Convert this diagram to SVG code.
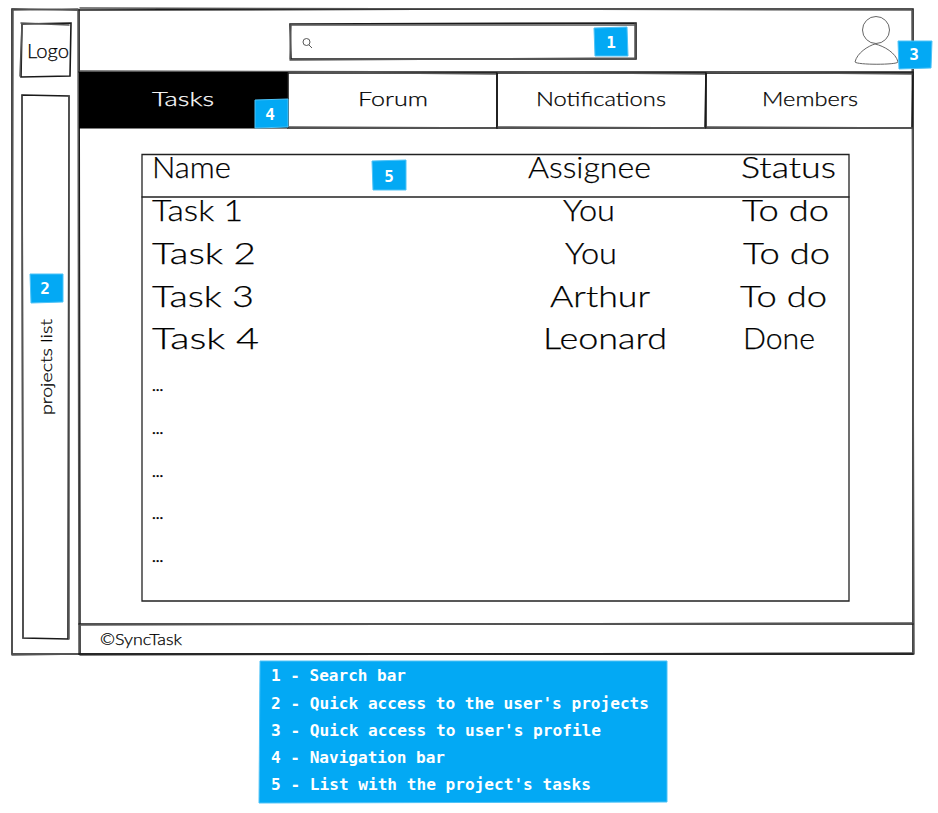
<svg xmlns="http://www.w3.org/2000/svg" width="938" height="813" viewBox="0 0 938 813">
<style>
.s{fill:none;stroke:#1a1a1a;stroke-width:1.6;stroke-linecap:round}
.g{fill:none;stroke:#555;stroke-width:1.5;stroke-linecap:round}
.ts{fill:none;stroke:#222;stroke-width:1.300;stroke-linecap:round}
.b{fill:#03a9f4;stroke:#4fc3f7;stroke-width:1}
.n{font-family:"DejaVu Sans Mono",monospace;font-weight:700;font-size:16px;fill:#fff;text-anchor:middle}
.h{font-family:"Lato","Open Sans",sans-serif;font-weight:300;fill:#000;stroke:#000;stroke-width:0.250}
.t{font-size:30px}
.u{font-size:20px}
.l{font-family:"DejaVu Sans Mono",monospace;font-weight:700;font-size:16px;fill:#fff}
</style>
<rect width="938" height="813" fill="#fff"/>
<g id="sidebar"><path class="s" d="M12 9L79 10L80 654L12 654Z"/><path class="g" d="M13 10L78 9M13 9L12 654M78 9L79 654M12 655L79 654"/></g>
<g id="main-window"><path class="s" d="M79 10L500 9L913 9L913 654L79 654"/><path class="g" d="M80 8L912 10M912 10L914 654M80 655L913 653"/></g>
<g id="logo"><path class="s" d="M22 24L71 23L70 76L21 77Z"/><path class="g" d="M21 23L69 25M20 76L22 24"/><text class="h u" x="48" y="58" text-anchor="middle" textLength="42" lengthAdjust="spacingAndGlyphs">Logo</text></g>
<g id="projects-list"><path class="s" d="M22 95L69 96L68 639L23 638Z"/><path class="g" d="M22 96L23 638M69 96L69 639"/><text class="h" font-size="16" transform="translate(52 367) rotate(-90)" text-anchor="middle" textLength="96" lengthAdjust="spacingAndGlyphs">projects list</text></g>
<g id="header-line"><path class="s" d="M79 72L913 72"/><path class="g" d="M80 71L912 73"/></g>
<g id="search"><path class="s" d="M290 24L636 23L636 59L291 59Z"/><path class="g" d="M291 25L635 25M290 60L635 58M291 24L290 59M635 24L635 59"/><circle cx="306.500" cy="42" r="3.500" fill="none" stroke="#444" stroke-width="0.900"/><path d="M309 45L312 48" stroke="#444" stroke-width="0.900"/></g>
<g id="avatar"><circle cx="876" cy="30" r="13.500" fill="#fff" stroke="#666" stroke-width="1"/><path d="M855 62C857 53 868 46 875 44C884 46 896 53 898 62C897 65 857 65 855 62Z" fill="#fff" stroke="#666" stroke-width="1"/></g>
<g id="tab-tasks"><rect x="79" y="72" width="209" height="56.500" fill="#000"/><text class="h u" x="183" y="106" style="fill:#fff;stroke:#fff" text-anchor="middle" textLength="62" lengthAdjust="spacingAndGlyphs">Tasks</text></g>
<g id="tab-forum"><path class="s" d="M288 73L497 73L497 128L288 128Z"/><path class="g" d="M289 72L496 74M289 127L496 128"/><text class="h u" x="393" y="106" text-anchor="middle" textLength="70" lengthAdjust="spacingAndGlyphs">Forum</text></g>
<g id="tab-notifications"><path class="s" d="M497 73L706 73L705 128L497 128Z"/><path class="g" d="M498 72L705 74M498 127L705 128"/><text class="h u" x="601" y="106" text-anchor="middle" textLength="130" lengthAdjust="spacingAndGlyphs">Notifications</text></g>
<g id="tab-members"><path class="s" d="M706 73L913 73L912 128L706 128Z"/><path class="g" d="M707 72L912 74M707 127L912 128"/><text class="h u" x="810" y="106" text-anchor="middle" textLength="96" lengthAdjust="spacingAndGlyphs">Members</text></g>
<g id="footer"><path class="s" d="M79 624L913 624M79 654L913 654"/><path class="g" d="M80 625L912 623"/><text class="h" font-size="15" x="100" y="645" textLength="82" lengthAdjust="spacingAndGlyphs">©SyncTask</text></g>
<g id="table"><path class="ts" d="M142 154.500L849 154.500L849 601L142 601Z"/><path class="ts" d="M142 197L849 197"/>
<g class="h t">
<text x="152" y="178" textLength="79" lengthAdjust="spacingAndGlyphs">Name</text>
<text x="528" y="178" textLength="123" lengthAdjust="spacingAndGlyphs">Assignee</text>
<text x="741" y="178" textLength="95" lengthAdjust="spacingAndGlyphs">Status</text>
<text x="152" y="221" textLength="91" lengthAdjust="spacingAndGlyphs">Task 1</text>
<text x="563" y="221" textLength="52" lengthAdjust="spacingAndGlyphs">You</text>
<text x="742" y="221" textLength="87" lengthAdjust="spacingAndGlyphs">To do</text>
<text x="152" y="264" textLength="104" lengthAdjust="spacingAndGlyphs">Task 2</text>
<text x="565" y="264" textLength="52" lengthAdjust="spacingAndGlyphs">You</text>
<text x="743" y="264" textLength="87" lengthAdjust="spacingAndGlyphs">To do</text>
<text x="152" y="307" textLength="102" lengthAdjust="spacingAndGlyphs">Task 3</text>
<text x="550" y="307" textLength="100" lengthAdjust="spacingAndGlyphs">Arthur</text>
<text x="740" y="307" textLength="87" lengthAdjust="spacingAndGlyphs">To do</text>
<text x="152" y="349" textLength="107" lengthAdjust="spacingAndGlyphs">Task 4</text>
<text x="543" y="349" textLength="124" lengthAdjust="spacingAndGlyphs">Leonard</text>
<text x="743" y="349" textLength="72" lengthAdjust="spacingAndGlyphs">Done</text>
</g>
<g class="h" font-size="16" style="font-weight:400"><text x="152" y="391">...</text><text x="152" y="434">...</text><text x="152" y="477">...</text><text x="152" y="519">...</text><text x="152" y="562">...</text></g></g>
<g id="badge-1"><path class="b" d="M594 28L627 27L628 56L595 56Z"/><text class="n" x="611" y="48">1</text></g>
<g id="badge-2"><path class="b" d="M30 274L63 274L63 302L31 303Z"/><text class="n" x="45" y="294">2</text></g>
<g id="badge-3"><path class="b" d="M898 41L932 41L931 68L899 69Z"/><text class="n" x="914" y="60">3</text></g>
<g id="badge-4"><path class="b" d="M255 100L288 99L288 127L255 128Z"/><text class="n" x="270" y="120">4</text></g>
<g id="badge-5"><path class="b" d="M372 161L406 160L406 190L373 190Z"/><text class="n" x="389" y="182">5</text></g>
<g id="legend"><path class="b" d="M260 661L667 661L667 802L259 803Z"/>
<text class="l" x="271" y="680.500" textLength="135" lengthAdjust="spacingAndGlyphs">1 - Search bar</text>
<text class="l" x="271" y="708.500" textLength="378" lengthAdjust="spacingAndGlyphs">2 - Quick access to the user's projects</text>
<text class="l" x="271" y="735.500" textLength="330" lengthAdjust="spacingAndGlyphs">3 - Quick access to user's profile</text>
<text class="l" x="271" y="762.500" textLength="174" lengthAdjust="spacingAndGlyphs">4 - Navigation bar</text>
<text class="l" x="271" y="789.500" textLength="320" lengthAdjust="spacingAndGlyphs">5 - List with the project's tasks</text></g>
</svg>
